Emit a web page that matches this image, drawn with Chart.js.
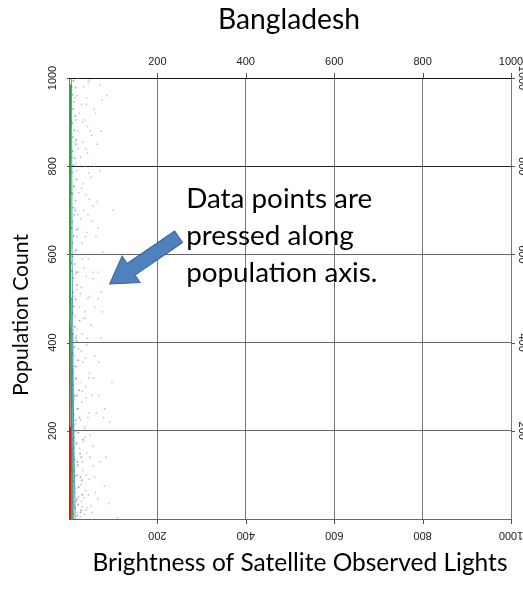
<!DOCTYPE html>
<html><head><meta charset="utf-8">
<script src="https://cdn.jsdelivr.net/npm/chart.js@4/dist/chart.umd.min.js"></script>
<style>html,body{margin:0;padding:0;background:#fff;overflow:hidden}canvas{display:block}</style>
</head><body><canvas id="c" width="523" height="596"></canvas>
<script>
// ---- chart text ----
const chartTitle = 'Bangladesh';
const xAxisTitle = 'Brightness of Satellite Observed Lights';
const yAxisTitle = 'Population Count';
const noteLines = ['Data points are', 'pressed along', 'population axis.'];

// ---- axes ----
const axisMin = 0;
const axisMax = 1000;
const tickStep = 200;
const tickValues = [200, 400, 600, 800, 1000];
const tickLabels = ['200', '400', '600', '800', '1000'];

// ---- density bands hugging the population axis (brightness, population) ----
const redCore = [[3, 0], [3, 210]];
const redUpper = [[2, 210], [2, 440]];
const yellowBand = [[6.5, 0], [6.5, 110]];
const greenBand = [[8, 0], [7, 150], [5.5, 300], [4, 500], [3, 700], [3, 985]];
const cyanBand = [[10.5, 0], [9.5, 150], [8, 280], [6.5, 420]];
const blueBand = [[14, 0], [12, 120], [10, 250], [7, 600], [5.5, 1000]];

// ---- individual observations ----
const bluePoints = [
  [10,12],[14,25],[8,38],[18,45],[12,60],[22,72],[9,85],[16,98],[11,110],[20,122],
  [13,135],[25,148],[8,160],[17,172],[12,185],[21,196],[9,210],[15,224],[11,238],[19,250],
  [8,265],[13,279],[23,292],[10,305],[16,318],[9,332],[14,346],[20,360],[8,375],[12,390],
  [17,404],[9,420],[13,436],[24,450],[8,466],[11,482],[15,498],[9,514],[18,530],[10,546],
  [7,562],[13,578],[9,595],[16,610],[8,626],[11,642],[20,658],[7,674],[12,690],[9,706],
  [15,722],[8,738],[11,754],[17,770],[7,786],[10,802],[13,818],[8,834],[16,850],[9,866],
  [12,882],[7,898],[14,914],[9,930],[11,946],[8,962],[15,978],[10,994],
  [27,20],[30,55],[26,95],[28,140],[32,180],[24,230],[26,15],[19,8],[21,33],[29,88],
  [6,18],[7,50],[6,120],[7,180],[6,260],[7,340],[6,420],[6,500],[5,580],[6,660],
  [5,740],[6,820],[5,900],[6,980],
  [16,40],[19,130],[14,200],[18,280],[15,410],[17,560],[14,700],[16,860]
];
const grayPoints = [
  [35,10],[42,25],[28,40],[50,30],[38,65],[45,90],[31,110],[55,120],[40,150],[33,175],
  [48,190],[60,60],[36,210],[44,240],[29,265],[52,280],[38,300],[46,330],[32,355],[58,370],
  [40,395],[30,420],[50,440],[36,470],[43,500],[28,525],[55,545],[34,570],[47,600],[30,625],
  [41,650],[53,675],[33,700],[45,725],[29,750],[50,775],[37,800],[42,830],[31,855],[48,880],
  [35,905],[57,930],[40,955],[33,980],[46,995],
  [18,15],[22,50],[20,100],[24,160],[17,200],[21,250],[25,310],[18,345],[22,385],[19,430],
  [23,480],[17,520],[21,560],[24,600],[18,640],[20,690],[22,740],[17,790],[21,840],[19,880],
  [23,920],[18,960],[20,1000],
  [70,985],[86,960],[75,950],[70,790],[64,720],[72,515],[66,500],[75,470],[68,280],[81,250],
  [78,230],[92,220],[66,660],[62,600],[84,140],[72,410],[63,850],[67,560],[110,3],[90,35],
  [26,5],[30,28],[34,48],[27,78],[31,130],[35,205],[26,225],[30,290],[27,380],[33,455],
  [26,510],[30,590],[27,680],[32,760],[26,820],[31,900],[28,940],
  [12,30],[15,70],[13,115],[16,170],[14,215],[12,270],[15,320],[13,370],[16,415],[14,460],
  [12,505],[15,555],[13,605],[16,655],[14,705],[12,755],[15,805],[13,855],[16,905],[14,955],
  [38,20],[44,55],[39,100],[47,140],[37,185],[43,230],[39,275],[45,320],[37,365],[42,410],
  [38,455],[46,505],[39,550],[44,590],[37,640],[43,690],[39,735],[45,785],[38,840],[42,890],
  [39,940],[44,990],
  [52,15],[58,95],[54,165],[62,240],[56,320],[53,400],[59,480],[55,560],[61,640],[54,710],
  [57,800],[52,870],[60,920],
  [65,45],[71,130],[68,355],[77,605],[73,880],[80,75],[97,310],[100,700]
];

// annotation anchors, in data units
const arrowTail = [248, 640];
const arrowTip = [92, 533];
const noteAnchor = [265, 705];

const toXY = a => a.map(p => ({ x: p[0], y: p[1] }));

function bandSet(data, color, width) {
  return { type: 'line', data: toXY(data), borderColor: color, borderWidth: width,
           pointRadius: 0, showLine: true, fill: false, tension: 0 };
}
function pointSet(data, color, r) {
  return { type: 'scatter', data: toXY(data), backgroundColor: color, borderWidth: 0,
           pointRadius: r, pointHoverRadius: r };
}

function fitSize(ctx, text, family, target) {
  ctx.font = '100px ' + family;
  return 100 * target / ctx.measureText(text).width;
}

const FONT = 'Lato, "Open Sans", sans-serif';
const TICK_FONT = '11px "Liberation Sans", Arial, sans-serif';

const decorations = {
  id: 'decorations',
  afterDraw(chart) {
    const ctx = chart.ctx;
    const xs = chart.scales.x, ys = chart.scales.y;
    const a = chart.chartArea;
    ctx.save();

    // tick marks outside the frame
    ctx.strokeStyle = '#555';
    ctx.lineWidth = 1;
    ctx.beginPath();
    tickValues.forEach(v => {
      const px = Math.round(xs.getPixelForValue(v)) + 0.5;
      ctx.moveTo(px, a.top - 5); ctx.lineTo(px, a.top);
      ctx.moveTo(px, a.bottom); ctx.lineTo(px, a.bottom + 5);
      const py = Math.round(ys.getPixelForValue(v)) + 0.5;
      ctx.moveTo(a.right, py); ctx.lineTo(a.right + 4, py);
      ctx.moveTo(a.left - 2, py); ctx.lineTo(a.left, py);
    });
    ctx.stroke();

    // tick labels on all four sides
    ctx.fillStyle = '#222';
    ctx.font = TICK_FONT;
    ctx.textAlign = 'center';
    ctx.textBaseline = 'middle';
    tickValues.forEach((v, i) => {
      const t = tickLabels[i];
      const px = xs.getPixelForValue(v);
      const py = ys.getPixelForValue(v);
      ctx.fillText(t, px, a.top - 16);
      ctx.save(); ctx.translate(px, a.bottom + 16); ctx.rotate(Math.PI); ctx.fillText(t, 0, 0); ctx.restore();
      ctx.save(); ctx.translate(a.left - 16, py); ctx.rotate(-Math.PI / 2); ctx.fillText(t, 0, 0); ctx.restore();
      ctx.save(); ctx.translate(a.right + 11, py); ctx.rotate(Math.PI / 2); ctx.fillText(t, 0, 0); ctx.restore();
    });

    // titles
    ctx.fillStyle = '#000';
    ctx.textBaseline = 'alphabetic';
    ctx.textAlign = 'center';
    ctx.font = fitSize(ctx, chartTitle, FONT, 142).toFixed(2) + 'px ' + FONT;
    ctx.fillText(chartTitle, 289, 29);
    ctx.font = fitSize(ctx, xAxisTitle, FONT, 415).toFixed(2) + 'px ' + FONT;
    ctx.fillText(xAxisTitle, 300, 571);
    ctx.save();
    ctx.translate(28, 315);
    ctx.rotate(-Math.PI / 2);
    ctx.font = fitSize(ctx, yAxisTitle, FONT, 162).toFixed(2) + 'px ' + FONT;
    ctx.fillText(yAxisTitle, 0, 0);
    ctx.restore();

    // arrow
    const tx = xs.getPixelForValue(arrowTail[0]), ty = ys.getPixelForValue(arrowTail[1]);
    const hx = xs.getPixelForValue(arrowTip[0]), hy = ys.getPixelForValue(arrowTip[1]);
    const ang = Math.atan2(hy - ty, hx - tx);
    const len = Math.hypot(hx - tx, hy - ty);
    const shaft = 7, head = 16, headLen = 26;
    ctx.save();
    ctx.translate(tx, ty);
    ctx.rotate(ang);
    ctx.beginPath();
    ctx.moveTo(0, -shaft);
    ctx.lineTo(len - headLen, -shaft);
    ctx.lineTo(len - headLen, -head);
    ctx.lineTo(len, 0);
    ctx.lineTo(len - headLen, head);
    ctx.lineTo(len - headLen, shaft);
    ctx.lineTo(0, shaft);
    ctx.closePath();
    ctx.fillStyle = '#4F81BD';
    ctx.fill();
    ctx.strokeStyle = '#3A6597';
    ctx.lineWidth = 1;
    ctx.stroke();
    ctx.restore();

    // note text
    ctx.textAlign = 'left';
    const nx = xs.getPixelForValue(noteAnchor[0]);
    const ny = ys.getPixelForValue(noteAnchor[1]);
    const noteSize = fitSize(ctx, noteLines[0], FONT, 186);
    ctx.font = noteSize.toFixed(2) + 'px ' + FONT;
    noteLines.forEach((l, i) => ctx.fillText(l, nx, ny + i * 37));

    ctx.restore();
  }
};

function gridColorY(c) {
  const v = c.tick && c.tick.value;
  if (v === 1000) return '#111';
  if (v === 800) return '#222';
  return '#666';
}

new Chart(document.getElementById('c'), {
  type: 'scatter',
  data: {
    datasets: [
      pointSet(grayPoints, 'rgba(150,160,170,0.55)', 0.9),
      pointSet(bluePoints, 'rgba(70,110,180,0.6)', 0.9),
      bandSet(blueBand, 'rgba(60,110,190,0.75)', 1),
      bandSet(cyanBand, 'rgb(40,190,210)', 1.3),
      bandSet(greenBand, 'rgb(40,165,60)', 1.6),
      bandSet(yellowBand, 'rgb(225,195,0)', 1.2),
      bandSet(redUpper, 'rgb(185,60,30)', 1.5),
      bandSet(redCore, 'rgb(220,20,10)', 3)
    ]
  },
  options: {
    responsive: false,
    animation: false,
    events: [],
    layout: { padding: { left: 69, right: 12, top: 78, bottom: 77 } },
    plugins: { legend: { display: false }, tooltip: { enabled: false }, title: { display: false } },
    scales: {
      x: {
        type: 'linear', min: axisMin, max: axisMax,
        ticks: { display: false, stepSize: tickStep },
        grid: { drawTicks: false, color: '#777', lineWidth: 1 },
        border: { display: false },
        afterFit: s => { s.height = 0; }
      },
      y: {
        type: 'linear', min: axisMin, max: axisMax,
        ticks: { display: false, stepSize: tickStep },
        grid: { drawTicks: false, color: gridColorY, lineWidth: 1 },
        border: { display: false },
        afterFit: s => { s.width = 0; }
      }
    }
  },
  plugins: [decorations]
});
</script>
</body></html>
